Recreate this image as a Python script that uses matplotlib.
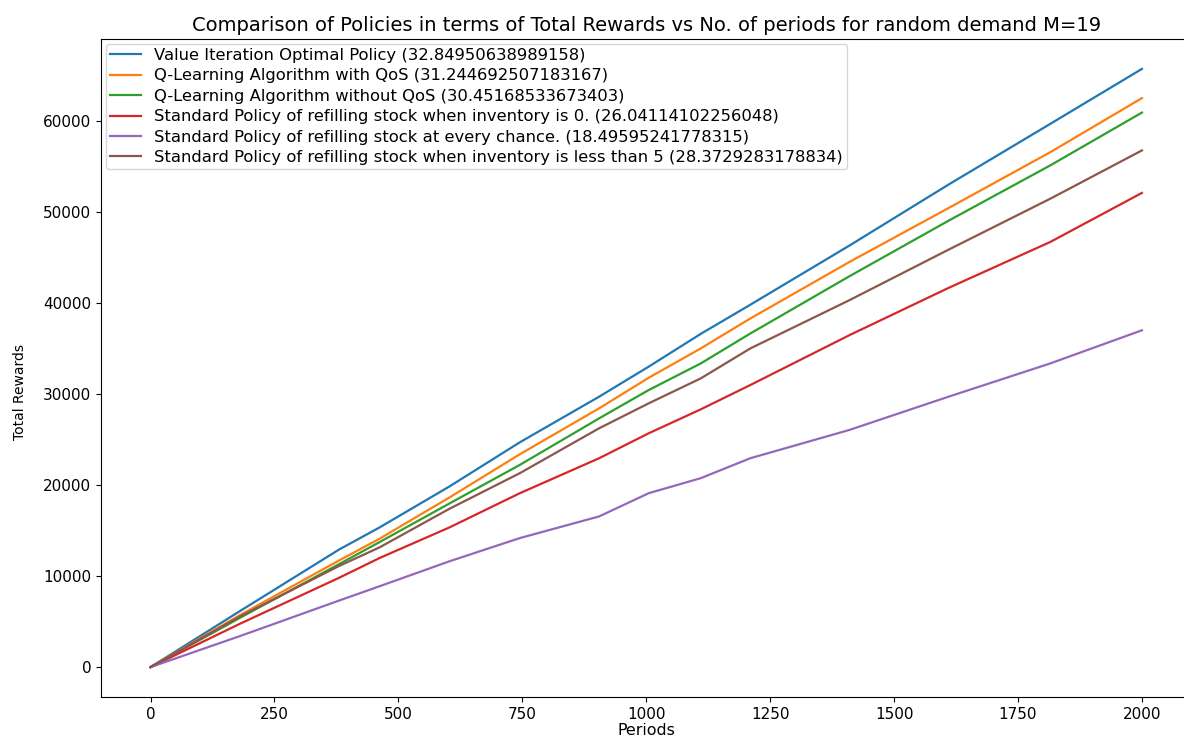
import matplotlib
matplotlib.use("Agg")
import matplotlib.pyplot as plt

periods = [0, 180, 380, 462, 603, 745, 905, 1005, 1110, 1210, 1410, 1610, 1815, 2000]

value_iter = [0, 6140, 12900, 15340, 19840, 24690, 29700, 33000, 36600, 39800, 46300, 53000, 59660, 65699]
q_qos = [0, 5700, 11700, 14100, 18630, 23380, 28420, 31780, 35000, 38290, 44500, 50420, 56550, 62489]
q_noqos = [0, 5400, 11300, 13730, 17970, 22210, 27320, 30430, 33350, 36640, 42930, 49030, 55100, 60903]
refill_zero = [0, 4750, 9800, 11980, 15340, 19100, 22940, 25680, 28310, 30980, 36460, 41650, 46690, 52082]
refill_every = [0, 3400, 7300, 8880, 11620, 14170, 16550, 19100, 20750, 22940, 26050, 29700, 33350, 36992]
refill_lt5 = [0, 5550, 11100, 13150, 17390, 21300, 26230, 28970, 31710, 35000, 40300, 45850, 51440, 56746]

labels = [
    "Value Iteration Optimal Policy (32.84950638989158)",
    "Q-Learning Algorithm with QoS (31.244692507183167)",
    "Q-Learning Algorithm without QoS (30.45168533673403)",
    "Standard Policy of refilling stock when inventory is 0. (26.04114102256048)",
    "Standard Policy of refilling stock at every chance. (18.49595241778315)",
    "Standard Policy of refilling stock when inventory is less than 5 (28.3729283178834)",
]
series = [value_iter, q_qos, q_noqos, refill_zero, refill_every, refill_lt5]
colors = ["#1f77b4", "#ff7f0e", "#2ca02c", "#d62728", "#9467bd", "#8c564b"]

fig = plt.figure(figsize=(11.84, 7.36), dpi=100)
ax = fig.add_axes([101 / 1184, 1 - 697 / 736, (1191.5 - 101) / 1184, (697 - 39) / 736])
for s, lab, c in zip(series, labels, colors):
    ax.plot(periods, s, color=c, label=lab, linewidth=1.6)

ax.set_title("Comparison of Policies in terms of Total Rewards vs No. of periods for random demand M=19",
             fontsize=14)
ax.set_xlabel("Periods", fontsize=11.4, labelpad=1)
ax.set_ylabel("Total Rewards", fontsize=10)
ax.yaxis.set_label_coords(-0.068, 0.4635)
ax.tick_params(axis="both", labelsize=11)
ax.legend(loc="upper left", fontsize=11.8, labelspacing=0.33, borderpad=0.25,
          borderaxespad=0.3, handlelength=1.9)
fig.savefig("out.png", dpi=100)
